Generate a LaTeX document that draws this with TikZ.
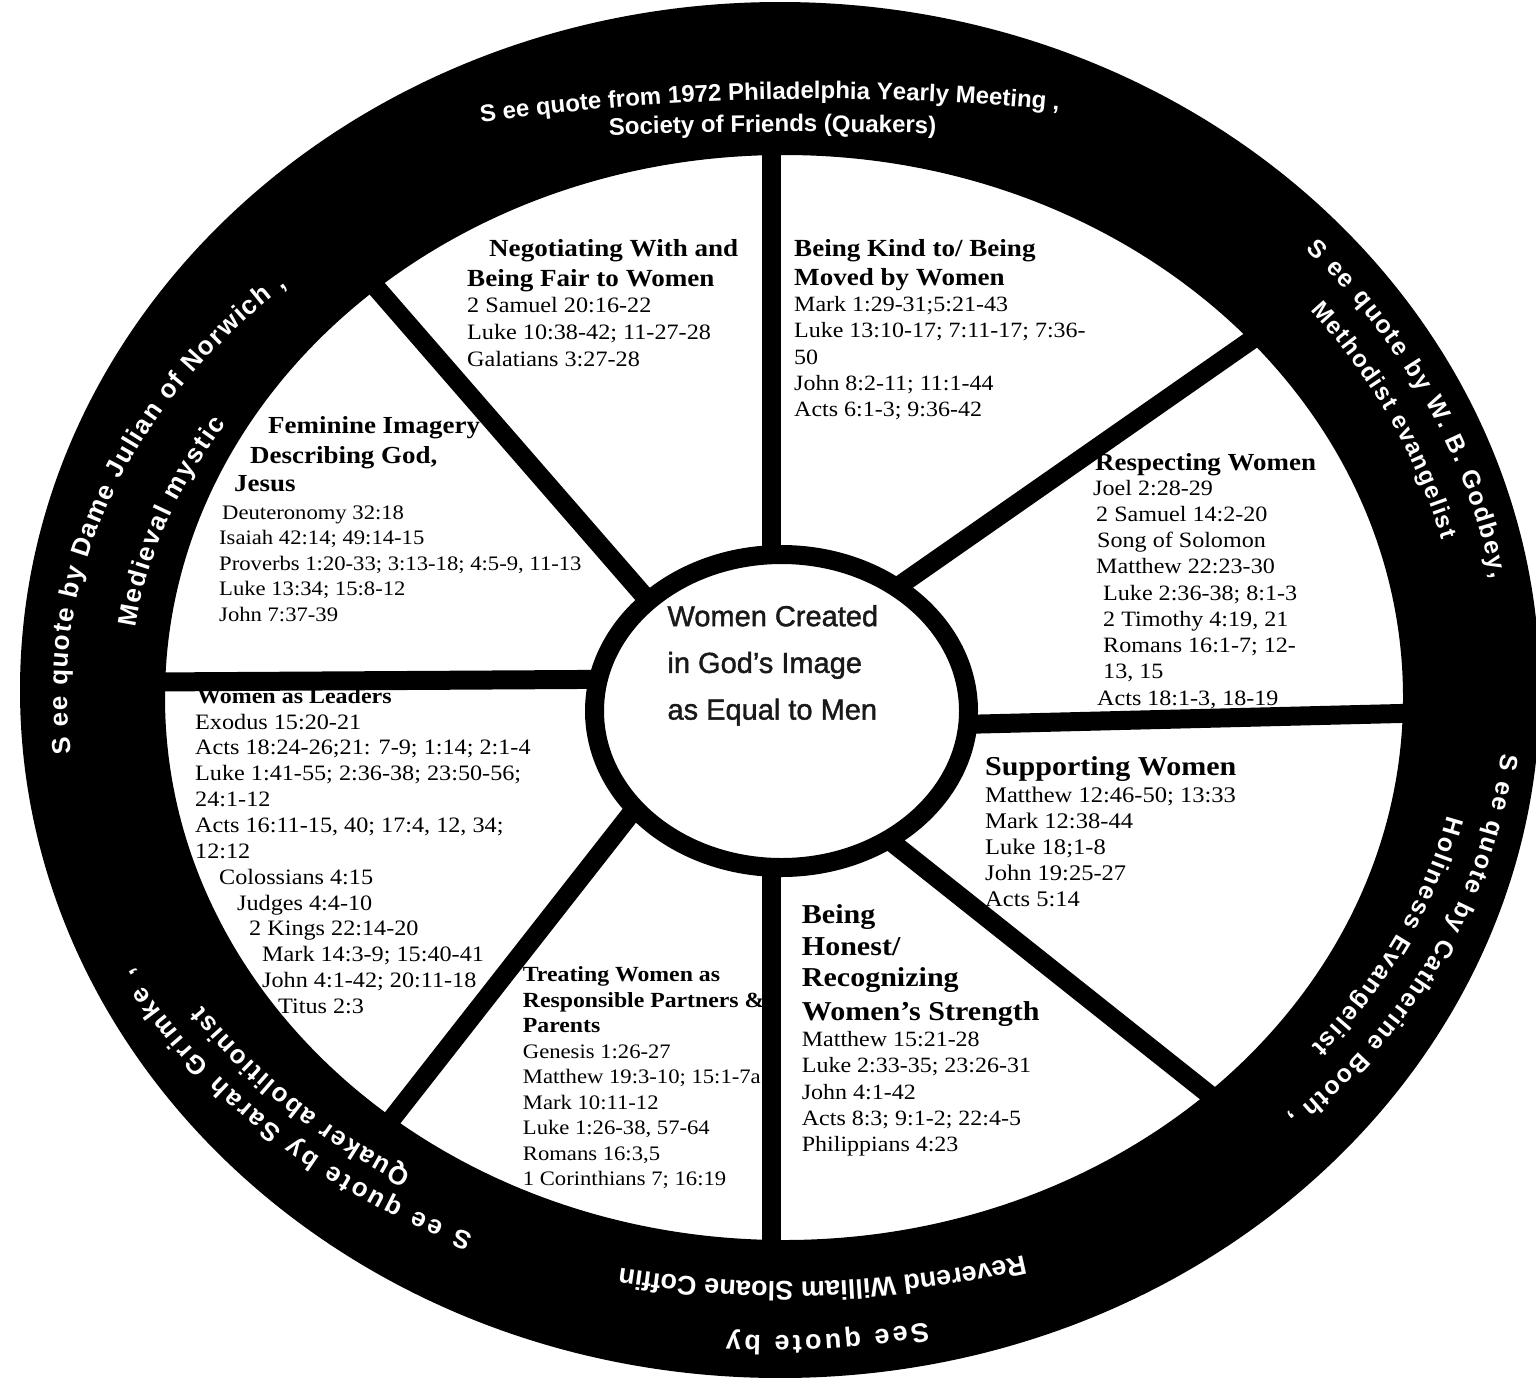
\documentclass[tikz,border=0pt]{standalone}
\usepackage{fontspec}
\setmainfont{Liberation Serif}
\newfontfamily\bodyff{Liberation Serif}[FakeStretch=1.1]
\newfontfamily\ringff{Liberation Sans}
\newfontfamily\hubff{Liberation Sans}[FakeBold=1.4]
\usetikzlibrary{decorations.text}
\newcommand\hd[2]{{\bfseries\fontsize{#1}{#1}\selectfont #2}}
\newcommand\bodyfont[2]{\bodyff\fontsize{#1}{#2}\selectfont}
% ring text fitted between two parameter angles of an ellipse about (775,693)
\newcommand\ringfit[6]{%
  \path[decorate,decoration={text along path,text align={fit to path},text color=white,
    text={|\ringff\bfseries\fontsize{#5}{#5}\selectfont|#6}}]
    plot[variable=\q,domain=#3:#4,samples=150] ({775+#1*cos(\q)},{693+#2*sin(\q)});}
\begin{document}
\begin{tikzpicture}[x=1pt,y=-1pt,
  spoke/.style={line width=19pt,black},
  sect/.style={anchor=north west,inner sep=0pt,align=left,text=black},
  ringdec/.style={decorate,decoration={text along path,text align=center,text color=white,text={#1}}}]
\useasboundingbox (0,0) rectangle (1536,1377);
\fill[white] (0,0) rectangle (1536,1377);

% ---------------- sections ----------------
\node[sect,font=\bodyfont{22}{27}] (negot) at (467,237) {\rule{0pt}{19pt}\hspace*{22pt}\hd{24.6}{Negotiating With and}\\[3pt]
\hd{24.6}{Being Fair to Women}\\[-1pt]
2 Samuel 20:16-22\\
Luke 10:38-42; 11-27-28\\
Galatians 3:27-28};

\node[sect,font=\bodyfont{21.8}{26.4}] (kind) at (794,237) {\rule{0pt}{19pt}\hd{24.6}{Being Kind to/ Being}\\[2.6pt]
\hd{24.6}{Moved by Women}\\[-0.4pt]
Mark 1:29-31;5:21-43\\
Luke 13:10-17; 7:11-17; 7:36-\\
50\\
John 8:2-11; 11:1-44\\
Acts 6:1-3; 9:36-42};

\node[sect,font=\bodyfont{21.9}{26.25}] (respect) at (1093,451) {\rule{0pt}{19pt}\hspace*{2pt}\hd{24.5}{Respecting Women}\\[-1.25pt]
Joel 2:28-29\\
\hspace*{3pt}2 Samuel 14:2-20\\
\hspace*{4pt}Song of Solomon\\
\hspace*{3pt}Matthew 22:23-30\\
\hspace*{10pt}Luke 2:36-38; 8:1-3\\
\hspace*{10pt}2 Timothy 4:19, 21\\
\hspace*{10pt}Romans 16:1-7; 12-\\
\hspace*{10pt}13, 15\\
\hspace*{4pt}Acts 18:1-3, 18-19};

\node[sect,font=\bodyfont{20.6}{25.5}] (feminine) at (219,414) {\rule{0pt}{19pt}\hspace*{49pt}\hd{24.5}{Feminine Imagery}\\[4.5pt]
\hspace*{31pt}\hd{24.5}{Describing God,}\\[2.5pt]
\hspace*{15pt}\hd{24.5}{Jesus}\\[2.5pt]
\hspace*{3pt}Deuteronomy 32:18\\
Isaiah 42:14; 49:14-15\\
Proverbs 1:20-33; 3:13-18; 4:5-9, 11-13\\
Luke 13:34; 15:8-12\\
John 7:37-39};

\node[sect,font=\bodyfont{22.3}{26.1}] (support) at (985,754) {\rule{0pt}{21pt}\hd{27.3}{Supporting Women}\\[1.2pt]
Matthew 12:46-50; 13:33\\
Mark 12:38-44\\
Luke 18;1-8\\
John 19:25-27\\
Acts 5:14};

\node[sect,font=\bodyfont{21.8}{26.4}] (honest) at (801.7,902.3) {\rule{0pt}{21pt}\hd{27.3}{Being}\\[5.3pt]
\hd{27.3}{Honest/}\\[5.3pt]
\hd{27.3}{Recognizing}\\[6.9pt]
\hd{27.3}{Women’s Strength}\\[-0.4pt]
Matthew 15:21-28\\
Luke 2:33-35; 23:26-31\\
John 4:1-42\\
Acts 8:3; 9:1-2; 22:4-5\\
Philippians 4:23};

\node[sect,font=\bodyfont{20.6}{25.5}] (treat) at (522.7,964.7) {\rule{0pt}{17pt}\hd{21.6}{Treating Women as}\\
\hd{21.6}{Responsible Partners \&}\\
\hd{21.6}{Parents}\\
Genesis 1:26-27\\
Matthew 19:3-10; 15:1-7a\\
Mark 10:11-12\\
Luke 1:26-38, 57-64\\
Romans 16:3,5\\
1 Corinthians 7; 16:19};

\node[sect,font=\bodyfont{22}{25.86}] (leaders) at (195,686) {\rule{0pt}{17pt}\hspace*{2pt}\hd{21.8}{Women as Leaders}\\
Exodus 15:20-21\\
Acts 18:24-26;21: 7-9; 1:14; 2:1-4\\
Luke 1:41-55; 2:36-38; 23:50-56;\\
24:1-12\\
Acts 16:11-15, 40; 17:4, 12, 34;\\
12:12\\
\hspace*{24pt}Colossians 4:15\\
\hspace*{42pt}Judges 4:4-10\\
\hspace*{54pt}2 Kings 22:14-20\\
\hspace*{67pt}Mark 14:3-9; 15:40-41\\
\hspace*{67pt}John 4:1-42; 20:11-18\\
\hspace*{83pt}Titus 2:3};

% ---------------- spokes ----------------
\coordinate (hubN) at (771,600);  \coordinate (rimN) at (771,140);
\coordinate (hubNW) at (680,637); \coordinate (rimNW) at (360,269);
\coordinate (hubW) at (660,679);  \coordinate (rimW) at (150,682);
\coordinate (hubSW) at (680,751); \coordinate (rimSW) at (380,1134);
\coordinate (hubS) at (771,800);  \coordinate (rimS) at (771,1260);
\coordinate (hubSE) at (850,809); \coordinate (rimSE) at (1230,1111);
\coordinate (hubE) at (900,726);  \coordinate (rimE) at (1420,713);
\coordinate (hubNE) at (870,606); \coordinate (rimNE) at (1270,327);
\foreach \d in {N,NW,W,SW,S,SE,E,NE}{\draw[spoke] (hub\d) -- (rim\d);}

% ---------------- outer ring ----------------
\fill[black,even odd rule] (780,690) ellipse[x radius=760pt,y radius=688pt]
  (784,697.5) ellipse[x radius=619pt,y radius=542.5pt];

% ---------------- hub ----------------
\draw[line width=19pt,fill=white] (781.5,711) ellipse[x radius=187pt,y radius=156.5pt];
\node[sect,font=\hubff\fontsize{29}{46.7}\selectfont,text=black!90] (hubtext) at (667.3,604) {\rule{0pt}{22pt}Women Created\\in God’s Image\\as Equal to Men};

% ---------------- ring texts ----------------
\path[ringdec={|\ringff\bfseries\fontsize{24}{24}\selectfont|S ee quote from 1972 Philadelphia Yearly Meeting ,}]
  (430,130) .. controls (656.7,94) and (883.3,89) .. (1110,116);
\path[ringdec={|\ringff\bfseries\fontsize{24}{24}\selectfont|Society of Friends (Quakers)}]
  (560,137) .. controls (700,131) and (841.7,130.3) .. (985,135);

\ringfit{728}{648}{316.8}{349.9}{25}{S ee quote by W. B. Godbey,}
\ringfit{689}{608}{321.0}{345.4}{24}{Methodist evangelist}
\ringfit{730}{597}{5.8}{45.3}{25}{S ee quote by Catherine Booth ,}
\ringfit{689}{563}{12.6}{38.9}{25}{Holiness Evangelist}
\ringfit{733}{643}{78}{93.8}{27}{See quote by}
\path[ringdec={|\ringff\bfseries\fontsize{27}{27}\selectfont|Reverend William Sloane Coffin}]
  (1070.8,1243) .. controls (910.9,1288.3) and (744.7,1294) .. (572.4,1259.9);
\ringfit{725}{596}{114.6}{152.5}{26}{S ee quote by Sarah Grimke ,}
\ringfit{688}{565}{121.9}{146.4}{26}{Quaker abolitionist}
\ringfit{708}{562}{173.8}{226.4}{26}{S ee quote by Dame Julian of Norwich ,}
\ringfit{645}{512}{187.3}{211.7}{26}{Medieval mystic}
\end{tikzpicture}
\end{document}
